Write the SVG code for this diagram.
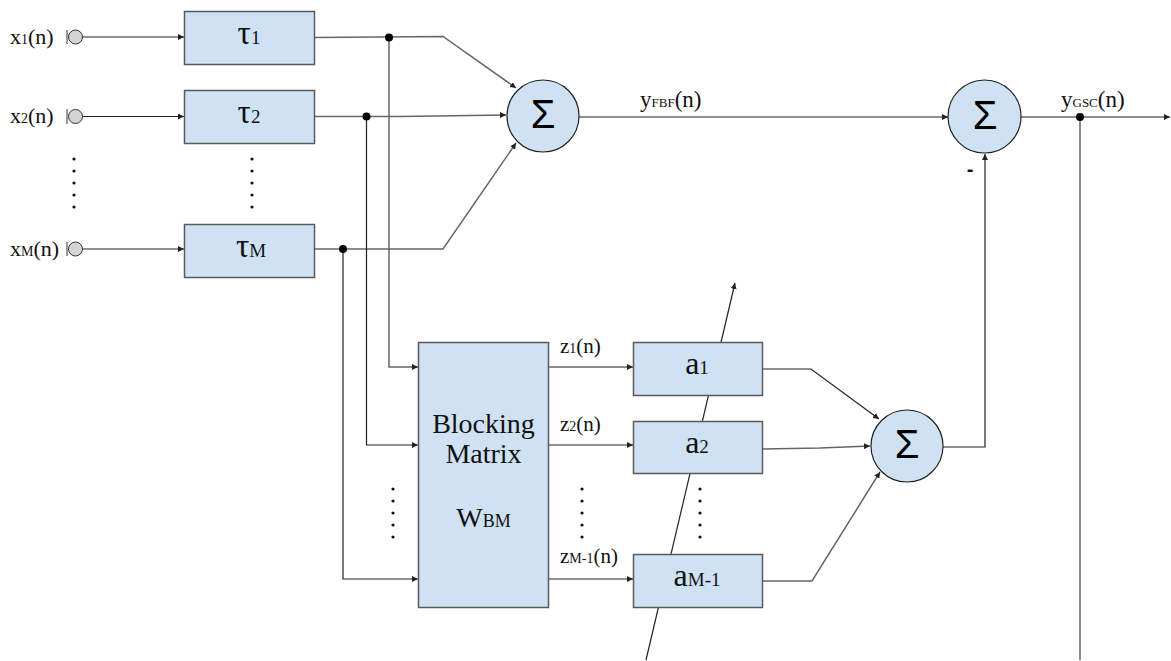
<svg xmlns="http://www.w3.org/2000/svg" width="1171" height="661" viewBox="0 0 1171 661">
  <defs>
    <marker id="arrow" markerUnits="userSpaceOnUse" markerWidth="7" markerHeight="6" refX="6" refY="3" orient="auto">
      <path d="M0,0 L6,3 L0,6 z" fill="#222"/>
    </marker>
    <style>
      .box { fill: #cfe2f3; stroke: #595959; stroke-width: 1.5; }
      .sum { fill: #cfe2f3; stroke: #222; stroke-width: 1.2; }
      .wire { fill: none; stroke: #222; stroke-width: 1.2; }
      .gray { fill: none; stroke: #666; stroke-width: 1.5; }
      .arr { marker-end: url(#arrow); }
      .dot { fill: #000; }
      .vdot { fill: #111; }
      .lbl { font-family: "Liberation Serif", serif; fill: #111; }
      .sig { font-family: "Liberation Sans", sans-serif; font-size: 40px; fill: #000; text-anchor: middle; }
      .port { fill: #d4d4d4; stroke: #333; stroke-width: 1; }
    </style>
  </defs>
  <rect width="1171" height="661" fill="#fff"/>

  <!-- connectors -->
  <g id="connectors">
    <!-- inputs to delays -->
    <line class="wire arr" x1="82" y1="37" x2="184" y2="37"/>
    <line class="wire arr" x1="82" y1="116.5" x2="184" y2="116.5"/>
    <line class="wire arr" x1="82" y1="249" x2="184" y2="249"/>
    <!-- delay outputs to first summer -->
    <polyline class="gray arr" points="314,37.5 443,36.5 516,88"/>
    <polyline class="gray arr" points="314,116.5 400,116.5 506,115"/>
    <polyline class="gray arr" points="314,249 443,249 516,143"/>
    <!-- taps into blocking matrix -->
    <polyline class="gray arr" points="389,37.5 389,367 418,367"/>
    <polyline class="wire arr" points="366.5,116.5 366.5,445 418,445"/>
    <polyline class="wire arr" points="343,249 343,579 418,579"/>
    <!-- blocking matrix outputs -->
    <line class="gray arr" x1="548" y1="367" x2="633" y2="367"/>
    <line class="wire arr" x1="548" y1="445" x2="633" y2="445"/>
    <line class="wire arr" x1="548" y1="579" x2="633" y2="579"/>
    <!-- adaptive weight adjustment arrow -->
    <line class="wire arr" x1="646" y1="660" x2="735" y2="283"/>
    <!-- adaptive filter outputs to second summer -->
    <polyline class="wire arr" points="762,369 811,369 879,419"/>
    <polyline class="gray arr" points="762,449 820,448 870,446"/>
    <polyline class="gray arr" points="762,581 812,581 880,472"/>
    <!-- fixed beamformer output -->
    <line class="wire arr" x1="579" y1="117" x2="948" y2="117"/>
    <!-- noise estimate subtracted -->
    <polyline class="wire arr" points="943,447 985,447 985,154"/>
    <!-- GSC output -->
    <line class="gray arr" x1="1021" y1="117" x2="1170" y2="117"/>
    <line class="gray" x1="1080" y1="117" x2="1080" y2="660"/>
    <!-- junctions -->
    <circle class="dot" cx="389" cy="37.5" r="4"/>
    <circle class="dot" cx="366.5" cy="116.5" r="4"/>
    <circle class="dot" cx="343" cy="249" r="4"/>
    <circle class="dot" cx="1080" cy="117" r="4"/>
  </g>

  <!-- input ports -->
  <g id="in1">
    <line x1="67" y1="30" x2="67" y2="44" stroke="#555" stroke-width="1.2"/>
    <circle class="port" cx="75.5" cy="37" r="7"/>
    <text class="lbl" x="10" y="44" font-size="22">x<tspan font-size="14">1</tspan>(n)</text>
  </g>
  <g id="in2">
    <line x1="67" y1="109" x2="67" y2="124" stroke="#555" stroke-width="1.2"/>
    <circle class="port" cx="75.5" cy="116.5" r="7"/>
    <text class="lbl" x="10" y="123" font-size="22">x<tspan font-size="14">2</tspan>(n)</text>
  </g>
  <g id="inM">
    <line x1="67" y1="242" x2="67" y2="256" stroke="#555" stroke-width="1.2"/>
    <circle class="port" cx="75.5" cy="249" r="7"/>
    <text class="lbl" x="10" y="256" font-size="22">x<tspan font-size="14">M</tspan>(n)</text>
  </g>

  <!-- delays -->
  <g id="tau1">
    <rect class="box" x="184.5" y="11.5" width="130" height="53"/>
    <text class="lbl" x="249" y="44" font-size="33" text-anchor="middle">τ<tspan font-size="19">1</tspan></text>
  </g>
  <g id="tau2">
    <rect class="box" x="184.5" y="90.5" width="130" height="53"/>
    <text class="lbl" x="249" y="123" font-size="33" text-anchor="middle">τ<tspan font-size="19">2</tspan></text>
  </g>
  <g id="tauM">
    <rect class="box" x="184.5" y="224.5" width="130" height="53"/>
    <text class="lbl" x="251" y="257" font-size="33" text-anchor="middle">τ<tspan font-size="19">M</tspan></text>
  </g>

  <!-- fixed beamformer summer -->
  <g id="sum1">
    <circle class="sum" cx="543" cy="116" r="36"/>
    <text class="sig" x="543" y="128">Σ</text>
  </g>
  <text class="lbl" x="640" y="107" font-size="23">y<tspan font-size="13">FBF</tspan>(n)</text>

  <!-- output summer -->
  <g id="sum2">
    <circle class="sum" cx="984.5" cy="116.5" r="36.5"/>
    <text class="sig" x="985" y="129">Σ</text>
  </g>
  <text x="970" y="176" font-size="20" font-family="Liberation Sans, sans-serif" font-weight="bold" fill="#111" text-anchor="middle">-</text>
  <text class="lbl" x="1061" y="107" font-size="23">y<tspan font-size="13">GSC</tspan>(n)</text>

  <!-- blocking matrix -->
  <g id="blocking">
    <rect class="box" x="418.5" y="342.5" width="130" height="265"/>
    <text class="lbl" x="483.5" y="433" font-size="28" text-anchor="middle">Blocking</text>
    <text class="lbl" x="483.5" y="463" font-size="28" text-anchor="middle">Matrix</text>
    <text class="lbl" x="483.5" y="527" font-size="28" text-anchor="middle">W<tspan font-size="18">BM</tspan></text>
  </g>

  <text class="lbl" x="560" y="353" font-size="21">z<tspan font-size="14">1</tspan>(n)</text>
  <text class="lbl" x="560" y="431" font-size="21">z<tspan font-size="14">2</tspan>(n)</text>
  <text class="lbl" x="560" y="563" font-size="21">z<tspan font-size="14">M-1</tspan>(n)</text>

  <!-- adaptive filters -->
  <g id="a1">
    <rect class="box" x="633.5" y="342.5" width="129" height="53"/>
    <text class="lbl" x="697" y="374" font-size="32" text-anchor="middle">a<tspan font-size="19">1</tspan></text>
  </g>
  <g id="a2">
    <rect class="box" x="633.5" y="421.5" width="129" height="52"/>
    <text class="lbl" x="697" y="453" font-size="32" text-anchor="middle">a<tspan font-size="19">2</tspan></text>
  </g>
  <g id="aM1">
    <rect class="box" x="633.5" y="554.5" width="129" height="53"/>
    <text class="lbl" x="697" y="586" font-size="32" text-anchor="middle">a<tspan font-size="19">M-1</tspan></text>
  </g>

  <!-- noise canceller summer -->
  <g id="sum3">
    <circle class="sum" cx="907" cy="446" r="36"/>
    <text class="sig" x="907" y="458">Σ</text>
  </g>

  <!-- ellipsis dots -->
  <g id="ellipses" class="vdot">
    <circle cx="74" cy="159" r="1.6"/><circle cx="74" cy="171" r="1.6"/><circle cx="74" cy="183" r="1.6"/><circle cx="74" cy="195" r="1.6"/><circle cx="74" cy="207" r="1.6"/>
    <circle cx="252" cy="159" r="1.6"/><circle cx="252" cy="171" r="1.6"/><circle cx="252" cy="183" r="1.6"/><circle cx="252" cy="195" r="1.6"/><circle cx="252" cy="207" r="1.6"/>
    <circle cx="393" cy="489" r="1.6"/><circle cx="393" cy="501" r="1.6"/><circle cx="393" cy="513" r="1.6"/><circle cx="393" cy="525" r="1.6"/><circle cx="393" cy="537" r="1.6"/>
    <circle cx="582" cy="489" r="1.6"/><circle cx="582" cy="501" r="1.6"/><circle cx="582" cy="513" r="1.6"/><circle cx="582" cy="525" r="1.6"/><circle cx="582" cy="537" r="1.6"/>
    <circle cx="700" cy="489" r="1.6"/><circle cx="700" cy="501" r="1.6"/><circle cx="700" cy="513" r="1.6"/><circle cx="700" cy="525" r="1.6"/><circle cx="700" cy="537" r="1.6"/>
  </g>
</svg>
